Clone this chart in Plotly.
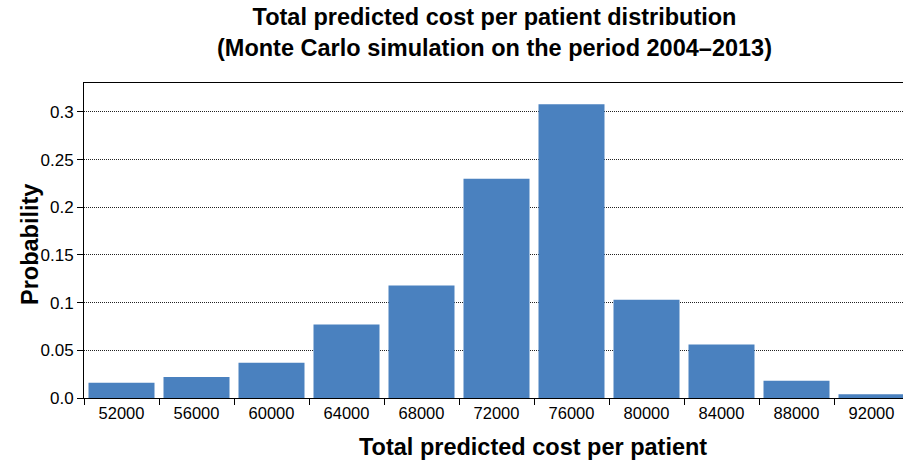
import plotly.graph_objects as go

categories = ["52000", "56000", "60000", "64000", "68000", "72000",
              "76000", "80000", "84000", "88000", "92000"]
probability = [0.016, 0.022, 0.037, 0.077, 0.118, 0.230, 0.308, 0.103, 0.056, 0.018, 0.004]
y_ticks = [0, 0.05, 0.1, 0.15, 0.2, 0.25, 0.3]
y_tick_labels = ["0.0", "0.05", "0.1", "0.15", "0.2", "0.25", "0.3"]

W, H = 903, 461
ML, MR, MT, MB = 84, 0, 83, 63
PW = W - ML - MR
PH = H - MT - MB

fig = go.Figure(go.Bar(x=categories, y=probability, marker=dict(color="#4a81bf", line=dict(width=0))))

fig.update_layout(
    width=W, height=H,
    margin=dict(l=ML, r=MR, t=MT, b=MB),
    plot_bgcolor="white", paper_bgcolor="white",
    bargap=0.12,
    showlegend=False,
    font=dict(family="Liberation Sans, Arial, sans-serif", color="black"),
)

fig.update_xaxes(
    type="category",
    range=[-0.5, 10.42],
    showline=True, linecolor="black", linewidth=1, mirror=True,
    ticks="outside", tickson="boundaries", ticklen=6, tickcolor="black",
    tickfont=dict(size=16.5),
    showgrid=False,
)
fig.update_yaxes(
    range=[0, 0.3304],
    tickvals=y_ticks, ticktext=y_tick_labels,
    showline=True, linecolor="black", linewidth=1,
    ticks="outside", ticklen=6, tickcolor="black",
    tickfont=dict(size=17),
    showgrid=True, gridcolor="#222222", griddash="1px,1px", gridwidth=1,
    zeroline=False,
)

fig.add_annotation(
    text="<b>Total predicted cost per patient distribution<br>(Monte Carlo simulation on the period 2004–2013)</b>",
    xref="paper", yref="paper",
    x=(494 - ML) / PW, y=((H - MB) - 33) / PH,
    xanchor="center", yanchor="middle", showarrow=False,
    font=dict(size=23.5, color="black"),
)
fig.add_annotation(
    text="<b>Total predicted cost per patient</b>",
    xref="paper", yref="paper",
    x=(533 - ML) / PW, y=-(447 - (H - MB)) / PH,
    xanchor="center", yanchor="middle", showarrow=False,
    font=dict(size=23.5, color="black"),
)
fig.add_annotation(
    text="<b>Probability</b>",
    xref="paper", yref="paper",
    x=(30 - ML) / PW, y=((H - MB) - 245) / PH,
    xanchor="center", yanchor="middle", showarrow=False, textangle=-90,
    font=dict(size=23.5, color="black"),
)

fig.write_html("out.html", config={"displayModeBar": False},
               post_script="document.body.style.margin='0';document.body.style.overflow='hidden';")
